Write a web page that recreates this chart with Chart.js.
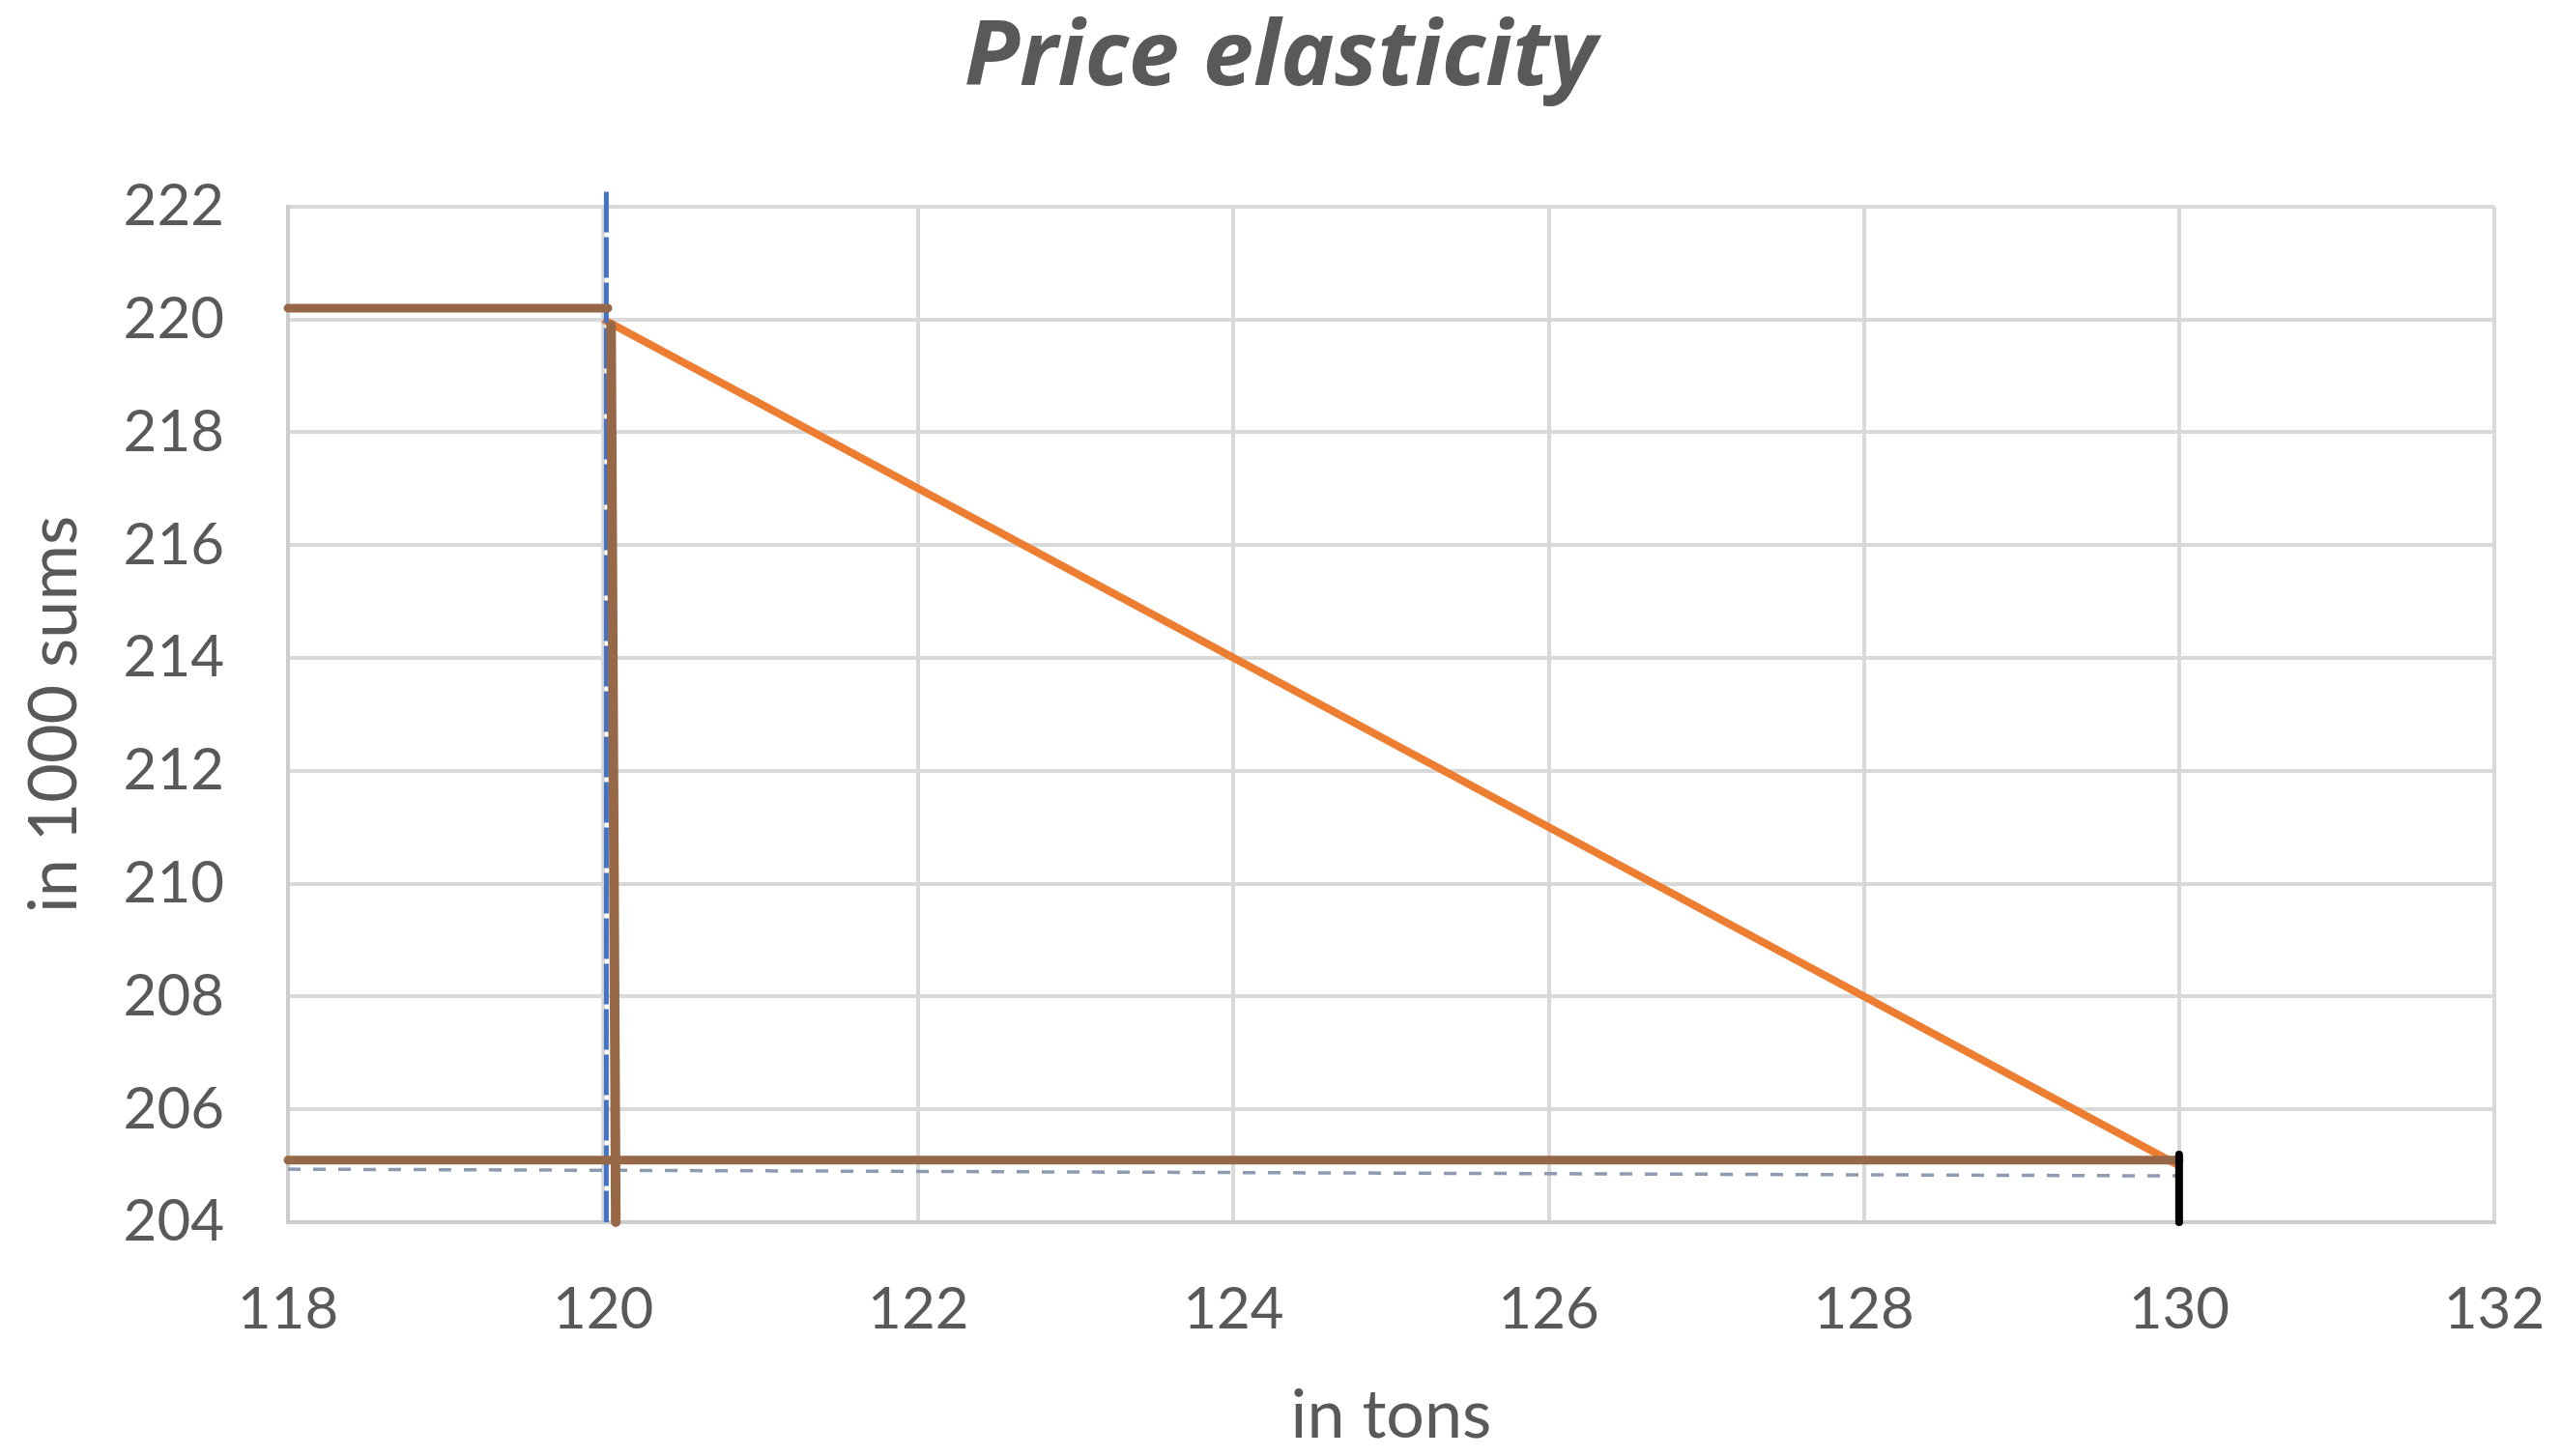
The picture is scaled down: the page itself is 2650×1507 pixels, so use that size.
<!DOCTYPE html>
<html>
<head>
<meta charset="utf-8">
<script src="https://cdn.jsdelivr.net/npm/chart.js@4.4.1/dist/chart.umd.min.js"></script>
<style>
  html, body { margin: 0; padding: 0; background: #ffffff; }
  #wrap { width: 2650px; height: 1507px; }
</style>
</head>
<body>
<div id="wrap"><canvas id="c" width="2650" height="1507"></canvas></div>
<script>
// ---- Data ----
const chartTitle = "Price elasticity";
const xAxisTitle = "in tons";
const yAxisTitle = "in 1000 sums";

const xMin = 118, xMax = 132, xStep = 2;
const yMin = 204, yMax = 222, yStep = 2;

// Demand line (orange)
const demandQty   = [120, 130];
const demandPrice = [220, 205];

// Brown hand-drawn guide lines
const topGuideX    = [118, 120.03];
const topGuideY    = [220.2, 220.2];
const vertGuideX   = [120.05, 120.08];
const vertGuideY   = [219.9, 204];
const bottomGuideX = [118, 130];
const bottomGuideY = [205.1, 205.1];

// Blue dashed vertical at q = 120
const blueDashX = [120.02, 120.02];
const blueDashY = [222.26, 204];

// Grey dashed line near p = 205
const greyDashX = [118, 130];
const greyDashY = [204.94, 204.82];

// Black marker at q = 130
const blackMarkX = [130, 130];
const blackMarkY = [205.2, 204];

function pts(xs, ys) { return xs.map((x, i) => ({ x: x, y: ys[i] })); }

const brown = "#966848";

const ctx = document.getElementById("c").getContext("2d");
new Chart(ctx, {
  type: "scatter",
  data: {
    datasets: [
      { label: "black", data: pts(blackMarkX, blackMarkY), borderColor: "#000000", borderWidth: 8, borderCapStyle: "round", order: 0, clip: false },
      { label: "top", data: pts(topGuideX, topGuideY), borderColor: brown, borderWidth: 9, borderCapStyle: "round", order: 1, clip: false },
      { label: "vert", data: pts(vertGuideX, vertGuideY), borderColor: brown, borderWidth: 10, borderCapStyle: "round", order: 1, clip: false },
      { label: "bottom", data: pts(bottomGuideX, bottomGuideY), borderColor: brown, borderWidth: 9, borderCapStyle: "round", order: 1, clip: false },
      { label: "blue", data: pts(blueDashX, blueDashY), borderColor: "#4472C4", borderWidth: 5, borderDash: [42, 5], order: 2, clip: false },
      { label: "demand", data: pts(demandQty, demandPrice), borderColor: "#ED7D31", borderWidth: 8, order: 3, clip: false },
      { label: "grey", data: pts(greyDashX, greyDashY), borderColor: "#8C9BB0", borderWidth: 3.5, borderDash: [13, 13], order: 4, clip: false }
    ].map(d => Object.assign({ showLine: true, pointRadius: 0, pointHoverRadius: 0, fill: false, tension: 0 }, d))
  },
  options: {
    responsive: false,
    animation: false,
    events: [],
    layout: { padding: { top: 0, left: 0, right: 0, bottom: 0 } },
    plugins: {
      legend: { display: false },
      tooltip: { enabled: false },
      title: {
        display: true,
        text: chartTitle,
        color: "#595959",
        font: { family: "'Open Sans'", size: 94, weight: "bold", style: "italic", lineHeight: 1.2 },
        padding: { top: 5, bottom: 96 }
      }
    },
    scales: {
      x: {
        type: "linear",
        position: "bottom",
        min: xMin, max: xMax,
        ticks: { stepSize: xStep, color: "#595959", padding: 5, font: { family: "Lato", size: 60 } },
        grid: { color: "#D9D9D9", lineWidth: 4, drawTicks: true, tickLength: 50, tickColor: "rgba(0,0,0,0)" },
        border: { color: "#CCCCCC", width: 4 },
        title: { display: true, text: xAxisTitle, color: "#595959", font: { family: "Lato", size: 70 }, padding: { top: 0, bottom: 0 } },
        afterFit: s => { s.height = 242; }
      },
      y: {
        type: "linear",
        position: "left",
        min: yMin, max: yMax,
        ticks: { stepSize: yStep, color: "#595959", padding: 66, font: { family: "Lato", size: 60 } },
        grid: { color: "#D9D9D9", lineWidth: 4, drawTicks: false },
        border: { color: "#CCCCCC", width: 4 },
        title: { display: true, text: yAxisTitle, color: "#595959", font: { family: "Lato", size: 70 }, padding: { top: 14, bottom: 0 } },
        afterFit: s => { s.width = 298; }
      },
      yRight: {
        type: "linear",
        position: "right",
        display: true,
        min: yMin, max: yMax,
        grid: { display: false, drawTicks: false },
        border: { display: false },
        ticks: { display: false },
        afterFit: s => { s.width = 69; }
      }
    }
  }
});
</script>
</body>
</html>
